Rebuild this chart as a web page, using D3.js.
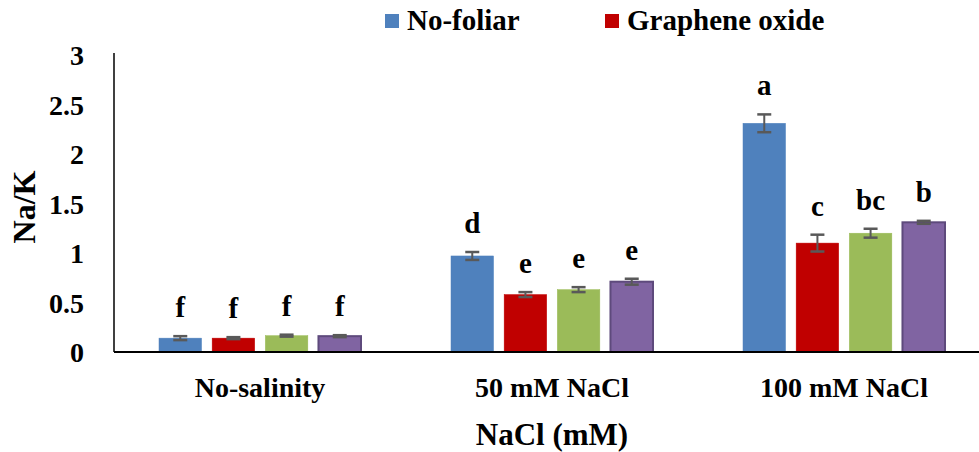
<!DOCTYPE html>
<html>
<head>
<meta charset="utf-8">
<script src="https://cdn.jsdelivr.net/npm/d3@7"></script>
<style>
  body { margin: 0; background: #fff; }
  svg text { font-family: 'Liberation Serif', 'Times New Roman', Times, 'DejaVu Serif', serif; font-weight: bold; }
</style>
</head>
<body>
<div id="chart"></div>
<script>
// chart data
var groups = ["No-salinity", "50 mM NaCl", "100 mM NaCl"];
var seriesNames = ["No-foliar", "Graphene oxide", "Series 3", "Series 4"];
var legendNames = ["No-foliar", "Graphene oxide"];
var colors = ["#4F81BD", "#C00000", "#9BBB59", "#8064A2"];
var strokes = ["#4F81BD", "#C00000", "#9BBB59", "#5E4A7C"];

// values per series, one per group
var noFoliar = [0.14, 0.97, 2.31];
var graphene = [0.14, 0.58, 1.10];
var series3  = [0.165, 0.63, 1.20];
var series4  = [0.16, 0.71, 1.31];

var errNoFoliar = [0.02, 0.04, 0.09];
var errGraphene = [0.01, 0.025, 0.085];
var errSeries3  = [0.01, 0.025, 0.045];
var errSeries4  = [0.01, 0.03, 0.015];

var lettersNoFoliar = ["f", "d", "a"];
var lettersGraphene = ["f", "e", "c"];
var lettersSeries3  = ["f", "e", "bc"];
var lettersSeries4  = ["f", "e", "b"];

var yTicks = [0, 0.5, 1, 1.5, 2, 2.5, 3];

var values = [noFoliar, graphene, series3, series4];
var errors = [errNoFoliar, errGraphene, errSeries3, errSeries4];
var letters = [lettersNoFoliar, lettersGraphene, lettersSeries3, lettersSeries4];

var width = 979, height = 452;
var svg = d3.select('#chart').append('svg')
    .attr('width', width)
    .attr('height', height);

var x0 = d3.scaleBand().domain(groups).range([114, 990]).padding(0);
var x1 = d3.scaleBand().domain(d3.range(4)).range([45, 247]).paddingInner(0.2).paddingOuter(0);
var y = d3.scaleLinear().domain([0, 3]).range([352, 55]);

// y axis (labels only, plus line)
var yAxis = svg.append('g')
    .attr('transform', 'translate(114,0)')
    .call(d3.axisLeft(y).tickValues(yTicks).tickFormat(d3.format('')).tickSize(0).tickPadding(30));
yAxis.attr('font-family', null).attr('font-size', null);
yAxis.select('.domain').remove();
yAxis.selectAll('text')
    .style('font-size', '28px')
    .attr('fill', '#000')
    .attr('dy', '0.35em');
svg.append('line')
    .attr('x1', 114).attr('x2', 114)
    .attr('y1', y(3) - 2).attr('y2', y(0))
    .attr('stroke', '#000').attr('stroke-width', 1.5);

// bars
var data = [];
groups.forEach(function(g, gi) {
    for (var s = 0; s < 4; s++) {
        data.push({ group: g, s: s, v: values[s][gi], e: errors[s][gi], label: letters[s][gi] });
    }
});

var bars = svg.append('g').selectAll('g.bar')
    .data(data).enter().append('g')
    .attr('transform', function(d) { return 'translate(' + (x0(d.group) + x1(d.s)) + ',0)'; });

bars.append('rect')
    .attr('x', 0)
    .attr('y', function(d) { return y(d.v); })
    .attr('width', x1.bandwidth())
    .attr('height', function(d) { return y(0) - y(d.v); })
    .attr('fill', function(d) { return colors[d.s]; })
    .attr('stroke', function(d) { return strokes[d.s]; })
    .attr('stroke-width', function(d) { return d.s === 3 ? 2 : 0.5; });

// error bars
var bw = x1.bandwidth();
bars.append('line')
    .attr('x1', bw / 2).attr('x2', bw / 2)
    .attr('y1', function(d) { return y(d.v + d.e); })
    .attr('y2', function(d) { return y(d.v - d.e); })
    .attr('stroke', '#595959').attr('stroke-width', 2);
bars.append('line')
    .attr('x1', bw / 2 - 7).attr('x2', bw / 2 + 7)
    .attr('y1', function(d) { return y(d.v + d.e); })
    .attr('y2', function(d) { return y(d.v + d.e); })
    .attr('stroke', '#595959').attr('stroke-width', 2.5);
bars.append('line')
    .attr('x1', bw / 2 - 7).attr('x2', bw / 2 + 7)
    .attr('y1', function(d) { return y(d.v - d.e); })
    .attr('y2', function(d) { return y(d.v - d.e); })
    .attr('stroke', '#595959').attr('stroke-width', 2.5);

// significance letters
bars.append('text')
    .attr('x', bw / 2)
    .attr('y', function(d) { return y(d.v + d.e) - 19; })
    .attr('text-anchor', 'middle')
    .style('font-size', '29px')
    .text(function(d) { return d.label; });

// x baseline
svg.append('line')
    .attr('x1', 114).attr('x2', 979)
    .attr('y1', y(0)).attr('y2', y(0))
    .attr('stroke', '#000').attr('stroke-width', 2);

// category labels
svg.append('g').selectAll('text')
    .data(groups).enter().append('text')
    .attr('x', function(d) { return x0(d) + x0.bandwidth() / 2; })
    .attr('y', 397)
    .attr('text-anchor', 'middle')
    .style('font-size', '28px')
    .text(function(d) { return d; });

// axis titles
svg.append('text')
    .attr('x', 552).attr('y', 445)
    .attr('text-anchor', 'middle')
    .style('font-size', '31px')
    .text('NaCl (mM)');

svg.append('text')
    .attr('transform', 'translate(35,207) rotate(-90)')
    .attr('text-anchor', 'middle')
    .style('font-size', '32px')
    .text('Na/K');

// legend
var legendX = [385, 605];
var leg = svg.append('g').selectAll('g')
    .data(legendNames).enter().append('g')
    .attr('transform', function(d, i) { return 'translate(' + legendX[i] + ',14)'; });
leg.append('rect')
    .attr('width', 14).attr('height', 14)
    .attr('fill', function(d, i) { return colors[i]; });
leg.append('text')
    .attr('x', 22).attr('y', 16)
    .style('font-size', '29px')
    .text(function(d) { return d; });
</script>
</body>
</html>
